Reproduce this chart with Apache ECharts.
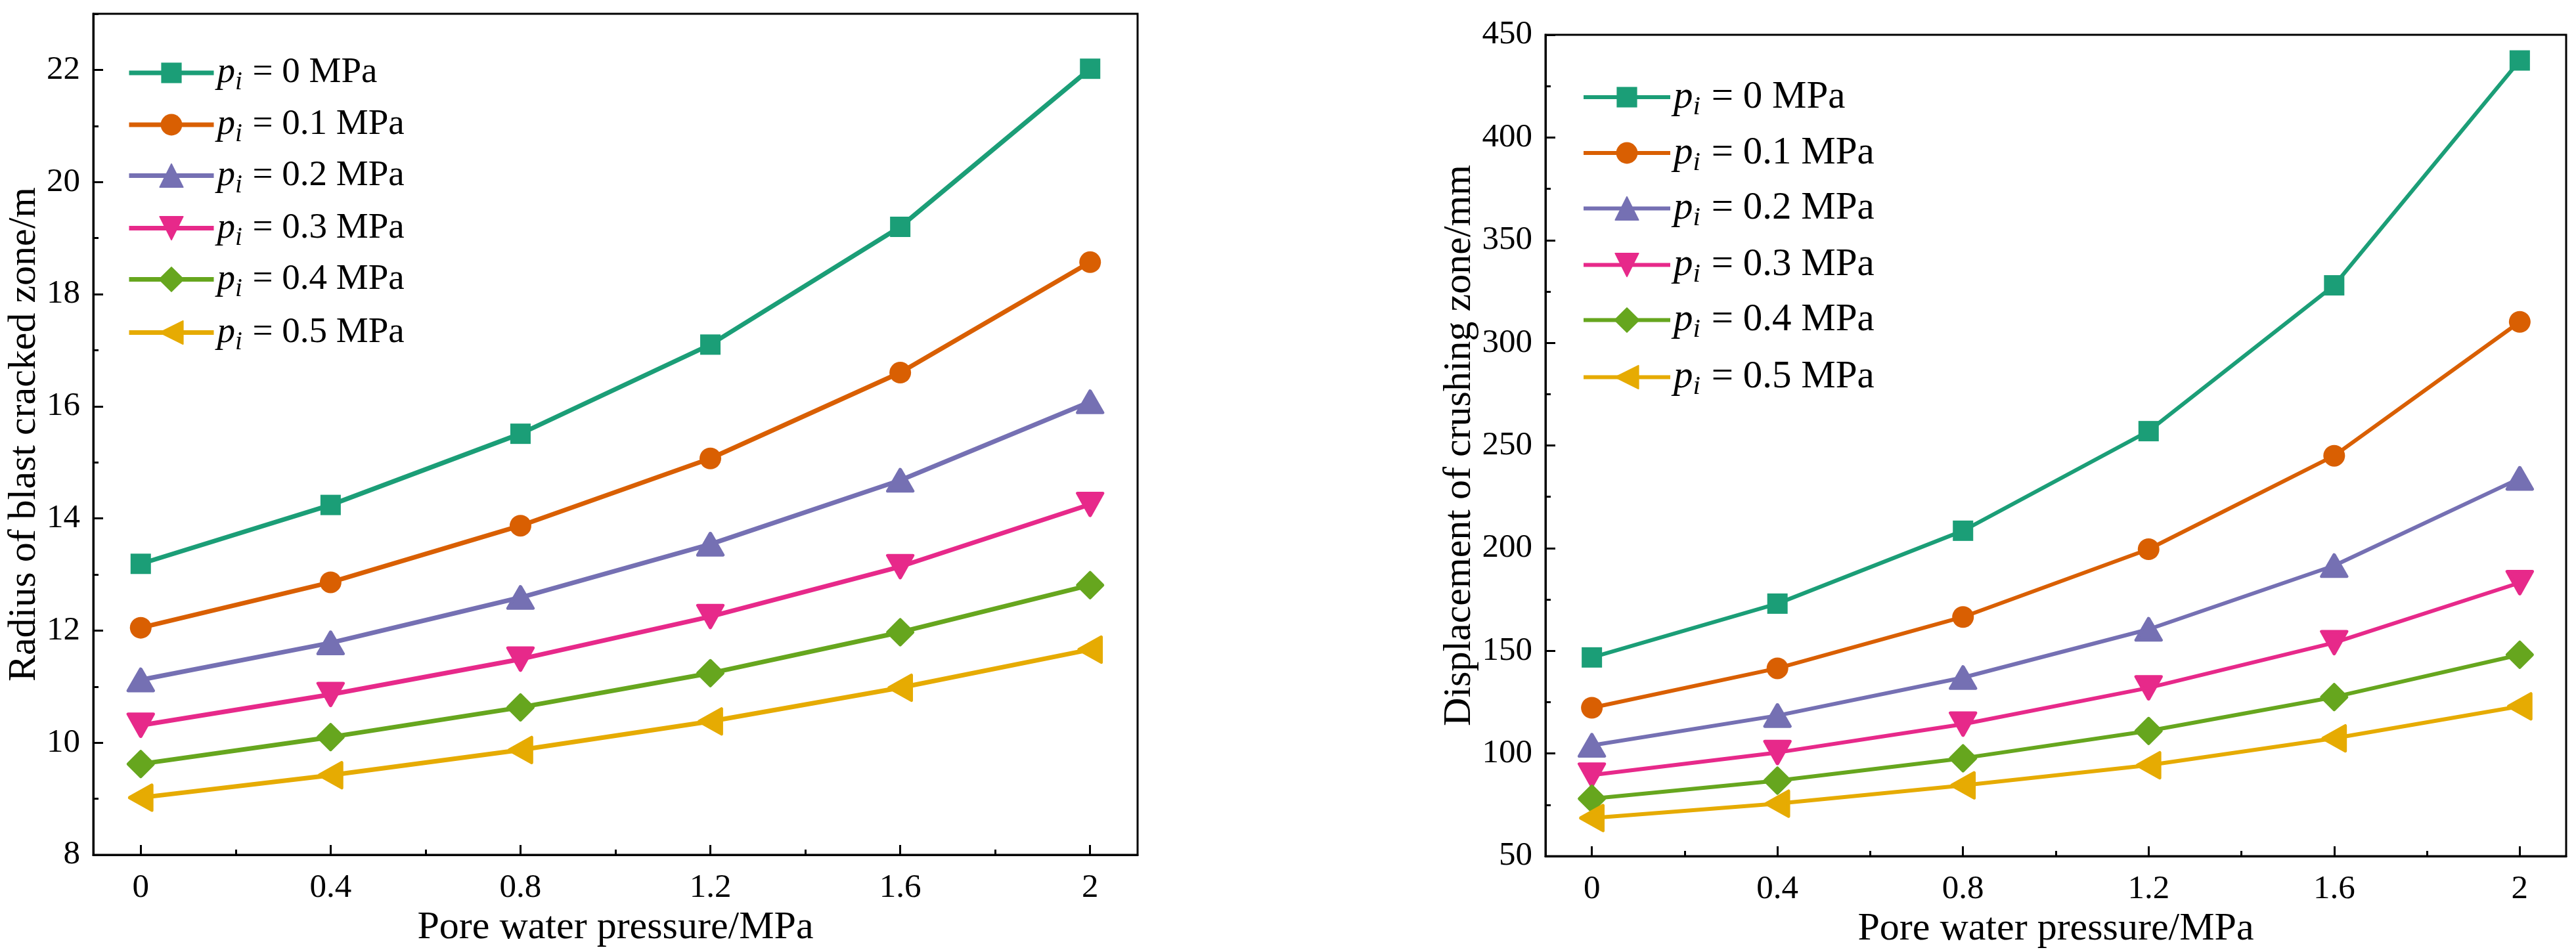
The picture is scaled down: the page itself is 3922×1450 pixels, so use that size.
<!DOCTYPE html>
<html>
<head>
<meta charset="utf-8">
<script src="https://cdn.jsdelivr.net/npm/echarts@6/dist/echarts.min.js"></script>
<style>
html,body{margin:0;padding:0;background:#fff;}
#c{width:3922px;height:1450px;}
</style>
</head>
<body>
<div id="c"></div>
<script>
// ---------- data ----------
const xValues = [0, 0.4, 0.8, 1.2, 1.6, 2];
const piLabels = ['0', '0.1', '0.2', '0.3', '0.4', '0.5'];
const xMajorTicks = [0, 0.4, 0.8, 1.2, 1.6, 2];
const xMinorTicks = [0.2, 0.6, 1.0, 1.4, 1.8];
const yLeftMajor = [8, 10, 12, 14, 16, 18, 20, 22];
const yLeftMinor = [9, 11, 13, 15, 17, 19, 21, 23];
const yRightMajor = [50, 100, 150, 200, 250, 300, 350, 400, 450];
const yRightMinor = [75, 125, 175, 225, 275, 325, 375, 425];

// Radius of blast cracked zone (m)
const radius_p0  = [13.19, 14.24, 15.51, 17.10, 19.20, 22.02];
const radius_p01 = [12.05, 12.86, 13.87, 15.07, 16.60, 18.57];
const radius_p02 = [11.12, 11.78, 12.59, 13.54, 14.68, 16.08];
const radius_p03 = [10.31, 10.86, 11.49, 12.25, 13.14, 14.25];
const radius_p04 = [9.62, 10.10, 10.63, 11.24, 11.97, 12.81];
const radius_p05 = [9.02, 9.42, 9.87, 10.38, 10.98, 11.66];

// Displacement of crushing zone (mm)
const disp_p0  = [146.8, 173.0, 208.5, 257.0, 328.0, 437.5];
const disp_p01 = [122.3, 141.5, 166.5, 199.5, 245.0, 310.2];
const disp_p02 = [104.0, 118.5, 137.0, 160.5, 191.5, 234.0];
const disp_p03 = [89.5, 100.5, 114.3, 132.0, 154.0, 183.2];
const disp_p04 = [78.0, 86.8, 97.7, 111.0, 127.5, 148.1];
const disp_p05 = [68.6, 75.6, 84.5, 94.3, 107.4, 123.0];

// ---------- styling ----------
const colors = ['#1B9E77', '#D95F02', '#7570B3', '#E7298A', '#66A61E', '#E6AB02'];
const FONT = '"Liberation Serif", "Times New Roman", serif';
const symbols = [
  {symbol: 'rect', size: [31, 31], rotate: 0},
  {symbol: 'circle', size: [33, 33], rotate: 0},
  {symbol: 'triangle', size: [38, 33], rotate: 0},
  {symbol: 'triangle', size: [38, 34], rotate: 180},
  {symbol: 'diamond', size: [38, 38], rotate: 0},
  {symbol: 'triangle', size: [38, 34], rotate: 90}
];
const rounded = [false, false, true, true, true, true];
const legendItemH = [39, 41, 44, 44, 46, 44];

const radiusSets = [radius_p0, radius_p01, radius_p02, radius_p03, radius_p04, radius_p05];
const dispSets = [disp_p0, disp_p01, disp_p02, disp_p03, disp_p04, disp_p05];

function seriesName(k, i) { return k + ':p_i = ' + piLabels[i] + ' MPa'; }

function buildSeries(sets, k, xIdx, yIdx, lw) {
  return sets.map((vals, i) => ({
    name: seriesName(k, i),
    type: 'line',
    xAxisIndex: xIdx,
    yAxisIndex: yIdx,
    data: xValues.map((x, j) => [x, vals[j]]),
    symbol: symbols[i].symbol,
    symbolSize: symbols[i].size,
    symbolRotate: symbols[i].rotate,
    showAllSymbol: true,
    color: colors[i],
    lineStyle: {color: colors[i], width: lw},
    itemStyle: rounded[i]
      ? {color: colors[i], borderColor: colors[i], borderWidth: 5, borderJoin: 'round'}
      : {color: colors[i], borderWidth: 0},
    emphasis: {disabled: true},
    animation: false,
    z: 2 + i
  }));
}

function xAxes(grid) {
  return [
    {
      type: 'value', gridIndex: grid, min: -0.1, max: 2.1,
      name: 'Pore water pressure/MPa', nameLocation: 'middle', nameGap: 51,
      nameTextStyle: {fontFamily: FONT, fontSize: 60, color: '#000'},
      axisLine: {show: true, onZero: false, lineStyle: {color: '#000', width: 3}},
      axisTick: {show: true, inside: true, length: 15, lineStyle: {color: '#000', width: 3}, customValues: xMajorTicks},
      axisLabel: {show: true, customValues: xMajorTicks, margin: 25, fontFamily: FONT, fontSize: 51, color: '#000'},
      splitLine: {show: false}
    },
    {
      type: 'value', gridIndex: grid, min: -0.1, max: 2.1, position: 'bottom',
      axisLine: {show: false, onZero: false},
      axisTick: {show: true, inside: true, length: 8, lineStyle: {color: '#000', width: 3}, customValues: xMinorTicks},
      axisLabel: {show: false},
      splitLine: {show: false}
    }
  ];
}

function yAxes(grid, min, max, major, minor, name, gap) {
  return [
    {
      type: 'value', gridIndex: grid, min: min, max: max, position: 'left',
      name: name, nameLocation: 'middle', nameGap: gap,
      nameTextStyle: {fontFamily: FONT, fontSize: 60, color: '#000'},
      axisLine: {show: true, onZero: false, lineStyle: {color: '#000', width: 3}},
      axisTick: {show: true, inside: true, length: 15, lineStyle: {color: '#000', width: 3}, customValues: major},
      axisLabel: {show: true, customValues: major, margin: 20, fontFamily: FONT, fontSize: 51, color: '#000'},
      splitLine: {show: false}
    },
    {
      type: 'value', gridIndex: grid, min: min, max: max, position: 'left',
      axisLine: {show: false, onZero: false},
      axisTick: {show: true, inside: true, length: 8, lineStyle: {color: '#000', width: 3}, customValues: minor},
      axisLabel: {show: false},
      splitLine: {show: false}
    }
  ];
}

function legendRich(fs) {
  return {
    p: {fontFamily: FONT, fontStyle: 'italic', fontSize: fs, lineHeight: 40, color: '#000'},
    s: {fontFamily: FONT, fontStyle: 'italic', fontSize: Math.round(fs * 0.7), lineHeight: 10, padding: [30, 2, 0, 0], color: '#000'},
    t: {fontFamily: FONT, fontSize: fs, lineHeight: 40, color: '#000'}
  };
}

function buildLegends(k, left, centers, itemW, fs, lw) {
  return piLabels.map((lab, i) => ({
    data: [seriesName(k, i)],
    left: left,
    top: centers[i] - legendItemH[i] / 2,
    orient: 'vertical',
    itemWidth: itemW,
    itemHeight: legendItemH[i],
    padding: 0,
    selectedMode: false,
    lineStyle: {width: lw},
    formatter: () => '{p|p}{s|i}{t| = ' + lab + ' MPa}',
    textStyle: {fontFamily: FONT, fontSize: fs, color: '#000', lineHeight: 40, rich: legendRich(fs)}
  }));
}

const leftCenters = [96, 176, 255, 335, 414, 494];
const rightCenters = [132, 218, 304, 390, 475, 561];

const option = {
  backgroundColor: '#fff',
  animation: false,
  grid: [
    {left: 142, top: 21, width: 1590, height: 1281, show: true, borderColor: '#000', borderWidth: 3, backgroundColor: 'transparent'},
    {left: 2353, top: 53, width: 1554, height: 1257, show: true, borderColor: '#000', borderWidth: 3, backgroundColor: 'transparent'}
  ],
  xAxis: [...xAxes(0), ...xAxes(1)],
  yAxis: [
    ...yAxes(0, 8, 23, yLeftMajor, yLeftMinor, 'Radius of blast cracked zone/m', 74),
    ...yAxes(1, 50, 450, yRightMajor, yRightMinor, 'Displacement of crushing zone/mm', 100)
  ],
  legend: [
    ...buildLegends('L', 193, leftCenters, 129, 55, 7),
    ...buildLegends('R', 2408, rightCenters, 132, 59, 6)
  ],
  series: [
    ...buildSeries(radiusSets, 'L', 0, 0, 7),
    ...buildSeries(dispSets, 'R', 2, 2, 6)
  ]
};

const chart = echarts.init(document.getElementById('c'), null, {renderer: 'canvas'});
chart.setOption(option);
</script>
</body>
</html>
